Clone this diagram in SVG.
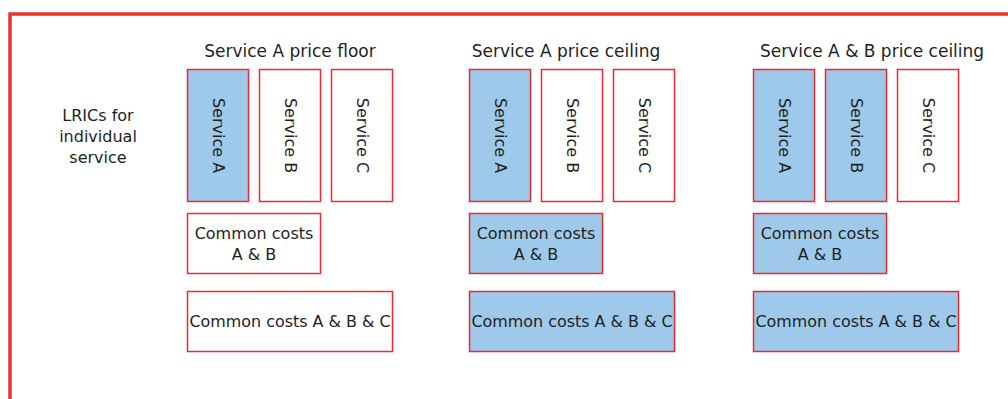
<svg xmlns="http://www.w3.org/2000/svg" width="1008" height="399" viewBox="0 0 1008 399">
  <style>
    .frame { fill: none; stroke: #e8332f; stroke-width: 3.5; }
    .box { stroke: #ee2a30; stroke-width: 1.5; }
    .on { fill: #9fc9ea; }
    .off { fill: #ffffff; }
    text { font-family: "DejaVu Sans", Verdana, sans-serif; fill: #1e1e1e; }
    .title { font-size: 17px; text-anchor: middle; }
    .lbl { font-size: 16px; text-anchor: middle; }
    .vert { font-size: 16px; text-anchor: middle; dominant-baseline: central; }
  </style>
  <defs>
    <g id="svcA"><rect class="box" x="0" y="0" width="61" height="133"/></g>
  </defs>

  <!-- outer frame, open at right and bottom -->
  <path class="frame" d="M10 399 V14 H1008"/>

  <g id="row-label">
    <text class="lbl" x="98" y="121">LRICs for</text>
    <text class="lbl" x="98" y="142">individual</text>
    <text class="lbl" x="98" y="163">service</text>
  </g>

  <!-- Scenario 1: price floor -->
  <g id="floor">
    <text class="title" x="290" y="57">Service A price floor</text>
    <g id="floor-a"><rect class="box on" x="187.5" y="69.5" width="61" height="132"/>
      <text class="vert" transform="translate(218 135.5) rotate(90)">Service A</text></g>
    <g id="floor-b"><rect class="box off" x="259.5" y="69.5" width="61" height="132"/>
      <text class="vert" transform="translate(290 135.5) rotate(90)">Service B</text></g>
    <g id="floor-c"><rect class="box off" x="331.5" y="69.5" width="61" height="132"/>
      <text class="vert" transform="translate(362 135.5) rotate(90)">Service C</text></g>
    <g id="floor-ab"><rect class="box off" x="187.5" y="213.5" width="133" height="60"/>
      <text class="lbl" x="254" y="239">Common costs</text>
      <text class="lbl" x="254" y="260">A &amp; B</text></g>
    <g id="floor-abc"><rect class="box off" x="187.5" y="291.5" width="205" height="60"/>
      <text class="lbl" x="290" y="327" textLength="201" lengthAdjust="spacingAndGlyphs">Common costs A &amp; B &amp; C</text></g>
  </g>

  <!-- Scenario 2: service A ceiling -->
  <g id="ceilA">
    <text class="title" x="566" y="57">Service A price ceiling</text>
    <g id="ceilA-a"><rect class="box on" x="469.5" y="69.5" width="61" height="132"/>
      <text class="vert" transform="translate(500 135.5) rotate(90)">Service A</text></g>
    <g id="ceilA-b"><rect class="box off" x="541.5" y="69.5" width="61" height="132"/>
      <text class="vert" transform="translate(572 135.5) rotate(90)">Service B</text></g>
    <g id="ceilA-c"><rect class="box off" x="613.5" y="69.5" width="61" height="132"/>
      <text class="vert" transform="translate(644 135.5) rotate(90)">Service C</text></g>
    <g id="ceilA-ab"><rect class="box on" x="469.5" y="213.5" width="133" height="60"/>
      <text class="lbl" x="536" y="239">Common costs</text>
      <text class="lbl" x="536" y="260">A &amp; B</text></g>
    <g id="ceilA-abc"><rect class="box on" x="469.5" y="291.5" width="205" height="60"/>
      <text class="lbl" x="572" y="327" textLength="201" lengthAdjust="spacingAndGlyphs">Common costs A &amp; B &amp; C</text></g>
  </g>

  <!-- Scenario 3: services A and B ceiling -->
  <g id="ceilAB">
    <text class="title" x="872" y="57">Service A &amp; B price ceiling</text>
    <g id="ceilAB-a"><rect class="box on" x="753.5" y="69.5" width="61" height="132"/>
      <text class="vert" transform="translate(784 135.5) rotate(90)">Service A</text></g>
    <g id="ceilAB-b"><rect class="box on" x="825.5" y="69.5" width="61" height="132"/>
      <text class="vert" transform="translate(856 135.5) rotate(90)">Service B</text></g>
    <g id="ceilAB-c"><rect class="box off" x="897.5" y="69.5" width="61" height="132"/>
      <text class="vert" transform="translate(928 135.5) rotate(90)">Service C</text></g>
    <g id="ceilAB-ab"><rect class="box on" x="753.5" y="213.5" width="133" height="60"/>
      <text class="lbl" x="820" y="239">Common costs</text>
      <text class="lbl" x="820" y="260">A &amp; B</text></g>
    <g id="ceilAB-abc"><rect class="box on" x="753.5" y="291.5" width="205" height="60"/>
      <text class="lbl" x="856" y="327" textLength="201" lengthAdjust="spacingAndGlyphs">Common costs A &amp; B &amp; C</text></g>
  </g>
</svg>
